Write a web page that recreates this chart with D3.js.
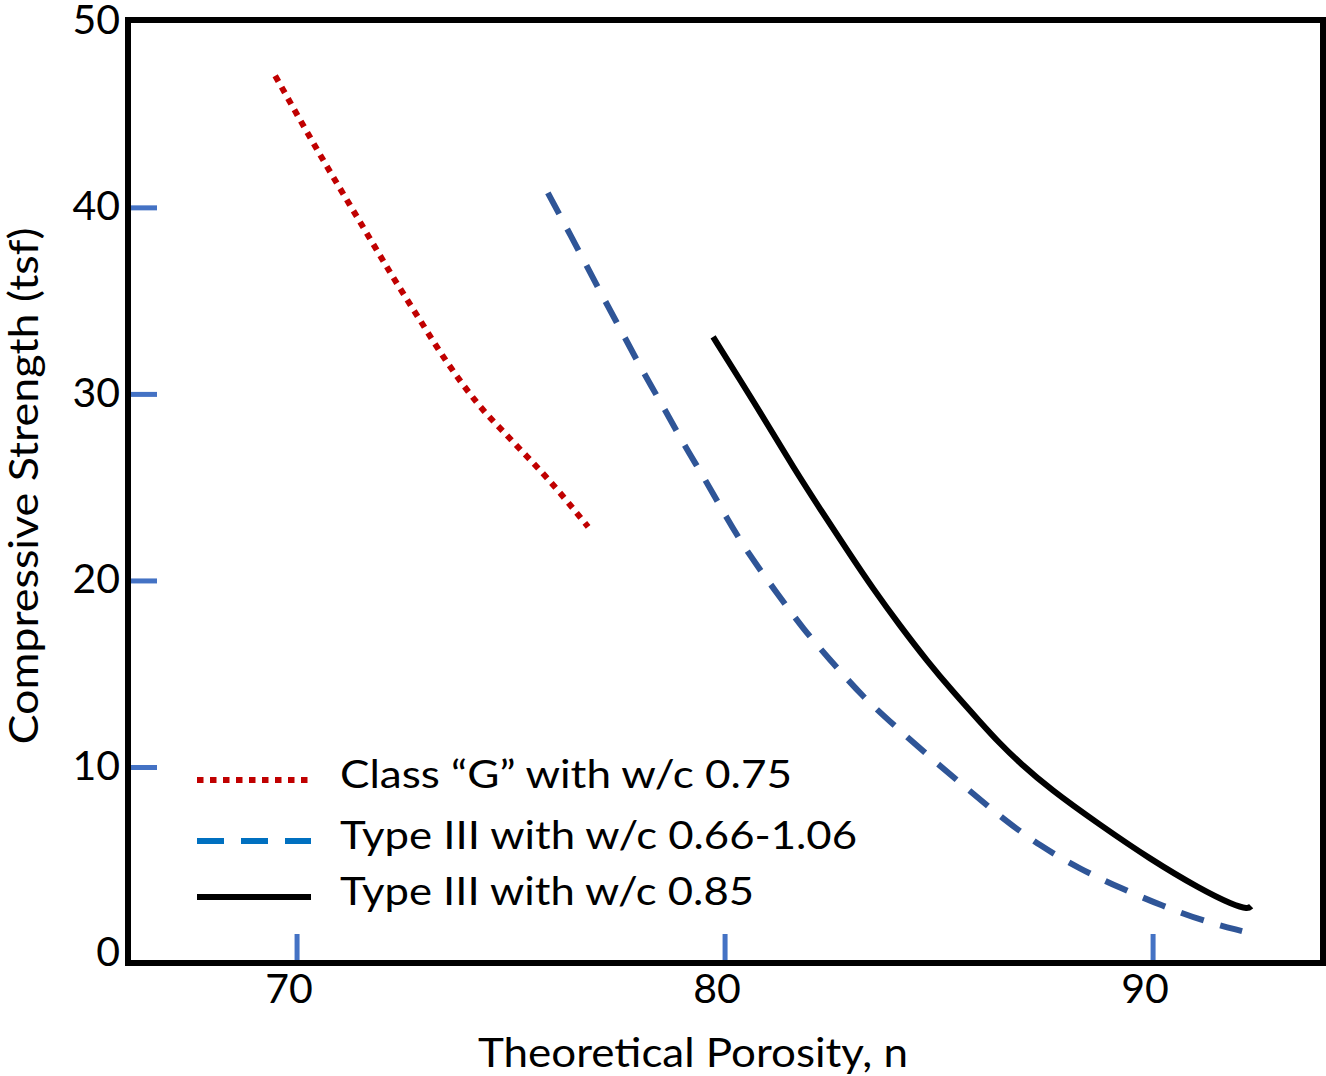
<!DOCTYPE html>
<html><head><meta charset="utf-8">
<script src="https://cdn.jsdelivr.net/npm/d3@7"></script>
<style>html,body{margin:0;padding:0;background:#fff;} svg{display:block;}</style>
</head><body>
<svg id="chart" width="1326" height="1076"></svg>
<script>
// ---- data ----
const seriesNames = ["Class \u201cG\u201d with w/c 0.75", "Type III with w/c 0.66-1.06", "Type III with w/c 0.85"];
const classG_n = [69.49, 70.54, 71.47, 72.24, 72.87, 73.50, 74.21, 75.05, 75.84, 76.80];
const classG_s = [47.08, 42.84, 39.25, 36.30, 33.99, 31.74, 29.54, 27.45, 25.52, 22.90];
const typeIIIrange_n = [75.86, 76.61, 77.08, 77.59, 78.08, 78.60, 79.11, 79.42, 80.05, 80.58, 81.21, 81.82, 82.52, 83.22, 84.02, 84.86, 85.72, 86.50, 87.36, 88.29, 89.23, 90.23, 91.17, 92.08];
const typeIIIrange_s = [40.80, 37.59, 35.50, 33.35, 31.21, 29.17, 27.02, 25.90, 23.32, 21.34, 19.36, 17.43, 15.60, 13.78, 12.12, 10.40, 8.74, 7.24, 5.79, 4.56, 3.54, 2.57, 1.77, 1.23];
const typeIII085_n = [79.72, 80.35, 80.98, 81.59, 82.22, 82.85, 83.46, 84.09, 84.72, 85.33, 85.96, 86.43, 86.89, 87.59, 88.76, 89.93, 91.10, 91.87, 92.22, 92.29];
const typeIII085_s = [33.08, 30.78, 28.44, 26.11, 23.86, 21.66, 19.57, 17.59, 15.71, 14.05, 12.44, 11.26, 10.24, 8.85, 6.92, 5.09, 3.49, 2.63, 2.41, 2.57];
const xTicks = [70, 80, 90];
const yTicks = [0, 10, 20, 30, 40, 50];
const xTitle = "Theoretical Porosity, n";
const yTitle = "Compressive Strength (tsf)";

// ---- layout ----
const svg = d3.select("#chart");
const L = 128, R = 1323, T = 20, B = 963;
const x = d3.scaleLinear().domain([66.05, 93.97]).range([L, R]);
const y = d3.scaleLinear().domain([-0.48, 50.07]).range([B, T]);
const FONT = "Lato, 'Open Sans', sans-serif";

// curves
const series = [
  {n: classG_n, s: classG_s, color: "#C00000", dash: "6.5 6.5", legColor: "#C00000", legDash: "6.5 6.5", curve: d3.curveMonotoneX},
  {n: typeIIIrange_n, s: typeIIIrange_s, color: "#2F5597", dash: "24 17", legColor: "#0070C0", legDash: "27 17", curve: d3.curveBasis},
  {n: typeIII085_n, s: typeIII085_s, color: "#000000", dash: null, legColor: "#000000", legDash: null, curve: d3.curveBasis}
];
series.forEach(sr => {
  const line = d3.line().x(d => x(d[0])).y(d => y(d[1])).curve(sr.curve);
  const pts = sr.n.map((v, i) => [v, sr.s[i]]);
  svg.append("path").attr("d", line(pts)).attr("fill", "none")
    .attr("stroke", sr.color).attr("stroke-width", 6)
    .attr("stroke-dasharray", sr.dash).attr("stroke-linecap", "butt").attr("stroke-linejoin", "round");
});

// ticks (blue, inward)
const tickColor = "#4472C4";
svg.append("g").selectAll("line").data(yTicks.filter(t => t > 0 && t < 50)).join("line")
  .attr("x1", L).attr("x2", L + 29).attr("y1", d => y(d)).attr("y2", d => y(d))
  .attr("stroke", tickColor).attr("stroke-width", 5);
svg.append("g").selectAll("line").data(xTicks).join("line")
  .attr("x1", d => x(d)).attr("x2", d => x(d)).attr("y1", B).attr("y2", B - 29)
  .attr("stroke", tickColor).attr("stroke-width", 5);

// frame
svg.append("rect").attr("x", L).attr("y", T).attr("width", R - L).attr("height", B - T)
  .attr("fill", "none").attr("stroke", "#000").attr("stroke-width", 6);

// tick labels
svg.append("g").selectAll("text").data(yTicks).join("text")
  .attr("x", 120).attr("y", d => Math.max(y(d) - 2, 20)).attr("dy", "0.35em")
  .attr("text-anchor", "end").attr("font-family", FONT).attr("font-size", 41).attr("fill", "#000")
  .text(d => d);
svg.append("g").selectAll("text").data(xTicks).join("text")
  .attr("x", d => x(d) - 8).attr("y", 1003)
  .attr("text-anchor", "middle").attr("font-family", FONT).attr("font-size", 41).attr("fill", "#000")
  .text(d => d);

// axis titles
svg.append("text").attr("x", 693).attr("y", 1067).attr("text-anchor", "middle")
  .attr("font-family", FONT).attr("font-size", 40).attr("fill", "#000")
  .attr("textLength", 430).attr("lengthAdjust", "spacingAndGlyphs").text(xTitle);
svg.append("text").attr("transform", "translate(38,486) rotate(-90)").attr("text-anchor", "middle")
  .attr("font-family", FONT).attr("font-size", 40).attr("fill", "#000")
  .attr("textLength", 517).attr("lengthAdjust", "spacingAndGlyphs").text(yTitle);

// legend
const legY = [780, 841, 897];
const legW = [452, 517, 414];
series.forEach((sr, i) => {
  svg.append("line").attr("x1", 197).attr("x2", 311).attr("y1", legY[i]).attr("y2", legY[i])
    .attr("stroke", sr.legColor).attr("stroke-width", 6).attr("stroke-dasharray", sr.legDash);
  svg.append("text").attr("x", 340).attr("y", legY[i] + 8)
    .attr("font-family", FONT).attr("font-size", 38).attr("fill", "#000")
    .attr("textLength", legW[i]).attr("lengthAdjust", "spacingAndGlyphs")
    .text(seriesNames[i]);
});
</script>
</body></html>
